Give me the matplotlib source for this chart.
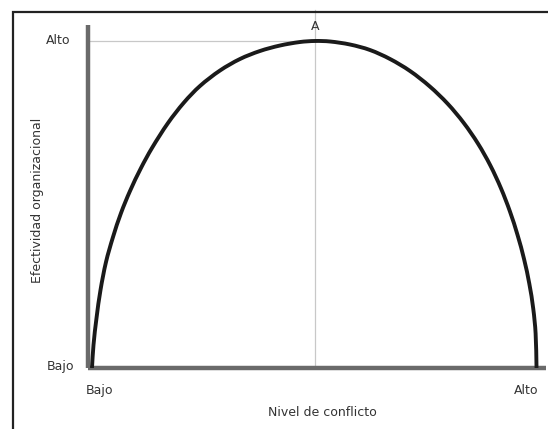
import matplotlib
matplotlib.use("Agg")
import matplotlib.pyplot as plt
from matplotlib.patches import Rectangle, PathPatch
from matplotlib.path import Path

plt.rcParams['font.family'] = ['DejaVu Sans']

# Curve: nivel de conflicto (x) vs efectividad organizacional (y), scale 0-100
conflict = [0.87, 1.20, 1.86, 2.73, 3.93, 5.46, 7.21, 9.17, 11.57, 13.97, 17.47, 20.96,
            24.45, 28.82, 33.19, 37.55, 41.92, 46.29, 49.56, 52.84, 57.21, 61.57, 65.94,
            70.31, 74.61, 78.54, 82.05, 85.15, 87.84, 90.15, 92.12, 93.80, 95.22, 96.36,
            97.21, 97.73, 97.93]
effectiveness = [0.00, 6.71, 14.58, 22.74, 30.90, 38.19, 45.19, 51.60, 58.31, 64.14, 71.43,
                 77.41, 82.22, 86.73, 90.09, 92.42, 94.02, 95.04, 95.34, 95.19, 94.31, 92.71,
                 90.09, 86.59, 82.10, 77.03, 71.43, 65.42, 59.07, 52.45, 45.66, 38.72, 31.69,
                 24.55, 17.35, 10.09, 0.00]
peak_x = 49.56
peak_y = 95.34
y_ticklabels = ["Bajo", "Alto"]
x_ticklabels = ["Bajo", "Alto"]
peak_label = "A"
x_label = "Nivel de conflicto"
y_label = "Efectividad organizacional"

W, H = 548, 429
fig = plt.figure(figsize=(W / 100, H / 100), dpi=100)
fig.patch.set_facecolor('white')

ax_left, ax_right, ax_bottom, ax_top = 88, 546, 368, 25
ax = fig.add_axes([ax_left / W, 1 - ax_bottom / H, (ax_right - ax_left) / W,
                   (ax_bottom - ax_top) / H])
ax.set_xlim(0, 100)
ax.set_ylim(0, 100)

for s in ['top', 'right']:
    ax.spines[s].set_visible(False)
for s in ['left', 'bottom']:
    ax.spines[s].set_color('#6a6a6a')
    ax.spines[s].set_linewidth(3.2)
    ax.spines[s].set_capstyle('butt')
ax.set_xticks([])
ax.set_yticks([])

# guide lines
ax.plot([0, peak_x], [peak_y, peak_y], color='#c8c8c8', lw=0.9, zorder=1)
ax.plot([peak_x, peak_x], [0, 104.3], color='#c8c8c8', lw=0.9, zorder=1, clip_on=False)

# smooth curve through the read points (chord-length Hermite rendered as cubic Bezier)
sx = (ax_right - ax_left) / 100.0
sy = (ax_bottom - ax_top) / 100.0
pts = list(zip(conflict, effectiveness))
n = len(pts)
t = [0.0]
for i in range(1, n):
    dx = (pts[i][0] - pts[i - 1][0]) * sx
    dy = (pts[i][1] - pts[i - 1][1]) * sy
    t.append(t[-1] + (dx * dx + dy * dy) ** 0.5)
tang = []
for i in range(n):
    a = max(i - 1, 0)
    b = min(i + 1, n - 1)
    dt = t[b] - t[a]
    tang.append(((pts[b][0] - pts[a][0]) / dt, (pts[b][1] - pts[a][1]) / dt))
verts = [pts[0]]
codes = [Path.MOVETO]
for i in range(n - 1):
    h = (t[i + 1] - t[i]) / 3.0
    c1 = (pts[i][0] + tang[i][0] * h, pts[i][1] + tang[i][1] * h)
    c2 = (pts[i + 1][0] - tang[i + 1][0] * h, pts[i + 1][1] - tang[i + 1][1] * h)
    verts += [c1, c2, pts[i + 1]]
    codes += [Path.CURVE4] * 3
curve = PathPatch(Path(verts, codes), facecolor='none', edgecolor='#1a1a1a', lw=2.8,
                  capstyle='butt', joinstyle='round', zorder=3)
ax.add_patch(curve)

tc = '#333333'
fs = 9
ax.text(-6.5, peak_y, y_ticklabels[1], ha='center', va='center', fontsize=fs, color=tc)
ax.text(-6.0, 0.3, y_ticklabels[0], ha='center', va='center', fontsize=fs, color=tc)
ax.text(2.6, -6.5, x_ticklabels[0], ha='center', va='center', fontsize=fs, color=tc)
ax.text(95.6, -6.5, x_ticklabels[1], ha='center', va='center', fontsize=fs, color=tc)
ax.text(peak_x, peak_y + 4.1, peak_label, ha='center', va='center', fontsize=fs, color=tc)
ax.text(51.2, -12.9, x_label, ha='center', va='center', fontsize=fs, color=tc)
ax.text(-11.0, 49.0, y_label, ha='center', va='center', rotation=90,
        fontsize=fs, color=tc)

# outer frame
fig.add_artist(Rectangle((13 / W, -0.2), 1.2, 1 - 12 / H + 0.2, transform=fig.transFigure,
                         fill=False, edgecolor='#222222', lw=1.6))

fig.savefig("out.png", dpi=100, facecolor='white')
